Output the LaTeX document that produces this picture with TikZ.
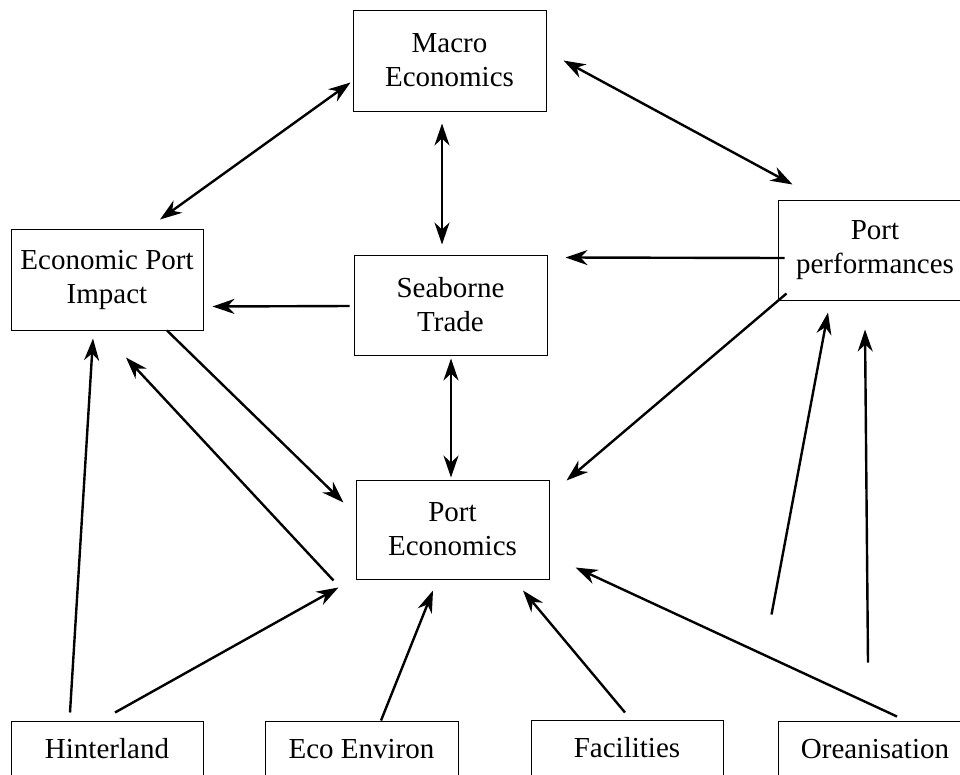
\documentclass[tikz,border=0pt]{standalone}
\usepackage{fontspec}
\setmainfont{Liberation Serif}
\usepackage{tikz}
\usetikzlibrary{arrows.meta}

\newcommand{\boxfont}{\fontsize{29}{34}\selectfont}

\tikzset{
  box/.style={draw, line width=1pt, minimum width=193pt, minimum height=100pt,
    align=center, inner sep=2pt, font=\boxfont},
  link/.style={line width=2.4pt, -{Stealth[length=22pt,width=15pt,inset=7pt]}},
  twoway/.style={line width=2.4pt,
    {Stealth[length=22pt,width=15pt,inset=7pt]}-{Stealth[length=22pt,width=15pt,inset=7pt]}}
}

\begin{document}
\begin{tikzpicture}[x=1pt,y=-1pt]
        \clip (0,0) rectangle (960,774);

        % Draw the main boxes
        \node[box, minimum height=101pt] (macro) at (449.5,60.5) {Macro\\Economics};
        \node[box, minimum width=192pt, minimum height=101pt] (impact) at (107,279.5) {Economic Port\\Impact};
        \node[box] (trade) at (450.5,305) {Seaborne\\Trade};
        \node[box, minimum width=194pt] (perf) at (875,250) {Port\\performances};
        \node[box, minimum height=99pt] (portec) at (452.5,529.5) {Port\\Economics};

        % Draw the factor boxes along the bottom
        \node[box, minimum width=192pt, minimum height=56pt] (hinter) at (107,749) {Hinterland};
        \node[box, minimum height=56pt] (envir) at (361.5,749) {Eco Environ};
        \node[box, minimum width=192pt, minimum height=56pt] (facil) at (627,748) {Facilities};
        \node[box, minimum width=194pt, minimum height=56pt] (organ) at (875,749) {Oreanisation};

        % Free starting points of the two arrows to the performances
        \coordinate (orgleft) at ([shift={(-6,-106)}]organ.north west);
        \coordinate (orgmid) at ([shift={(-7,-58)}]organ.north);

        % Draw the two-way links
        \draw[twoway] ([shift={(-2,22)}]macro.west) -- ([shift={(53,-9)}]impact.north);
        \draw[twoway] ([shift={(17,0)}]macro.east) -- ([shift={(15,-15)}]perf.north west);
        \draw[twoway] ([shift={(-7.5,12)}]macro.south) -- ([shift={(-8.5,-10)}]trade.north);
        \draw[twoway] ([shift={(0.5,3)}]trade.south) -- ([shift={(-1.5,-2)}]portec.north);

        % Draw the one-way links
        \draw[link] ([shift={(7,8)}]perf.west) -- ([shift={(18,3)}]trade.north east);
        \draw[link] ([shift={(-4,1)}]trade.west) -- ([shift={(9,-24)}]impact.south east);
        \draw[link] ([shift={(60,0)}]impact.south) -- ([shift={(-12,23)}]portec.north west);
        \draw[link] ([shift={(9,-7)}]perf.south west) -- ([shift={(17,1)}]portec.north east);
        \draw[link] ([shift={(-22,1)}]portec.south west) -- ([shift={(19,27)}]impact.south);

        % Draw the links from the bottom boxes
        \draw[link] ([shift={(-37,-8)}]hinter.north) -- ([shift={(-14,8)}]impact.south);
        \draw[link] ([shift={(8,-8)}]hinter.north) -- ([shift={(-17,8)}]portec.south west);
        \draw[link] ([shift={(19.5,0)}]envir.north) -- ([shift={(-19.5,11)}]portec.south);
        \draw[link] ([shift={(-2,-7)}]facil.north) -- ([shift={(70.5,11)}]portec.south);
        \draw[link] ([shift={(22,-4)}]organ.north) -- ([shift={(26,-12)}]portec.south east);
        \draw[link] (orgleft) -- ([shift={(-47,12)}]perf.south);
        \draw[link] (orgmid) -- ([shift={(-10,29)}]perf.south);

    \end{tikzpicture}
\end{document}
